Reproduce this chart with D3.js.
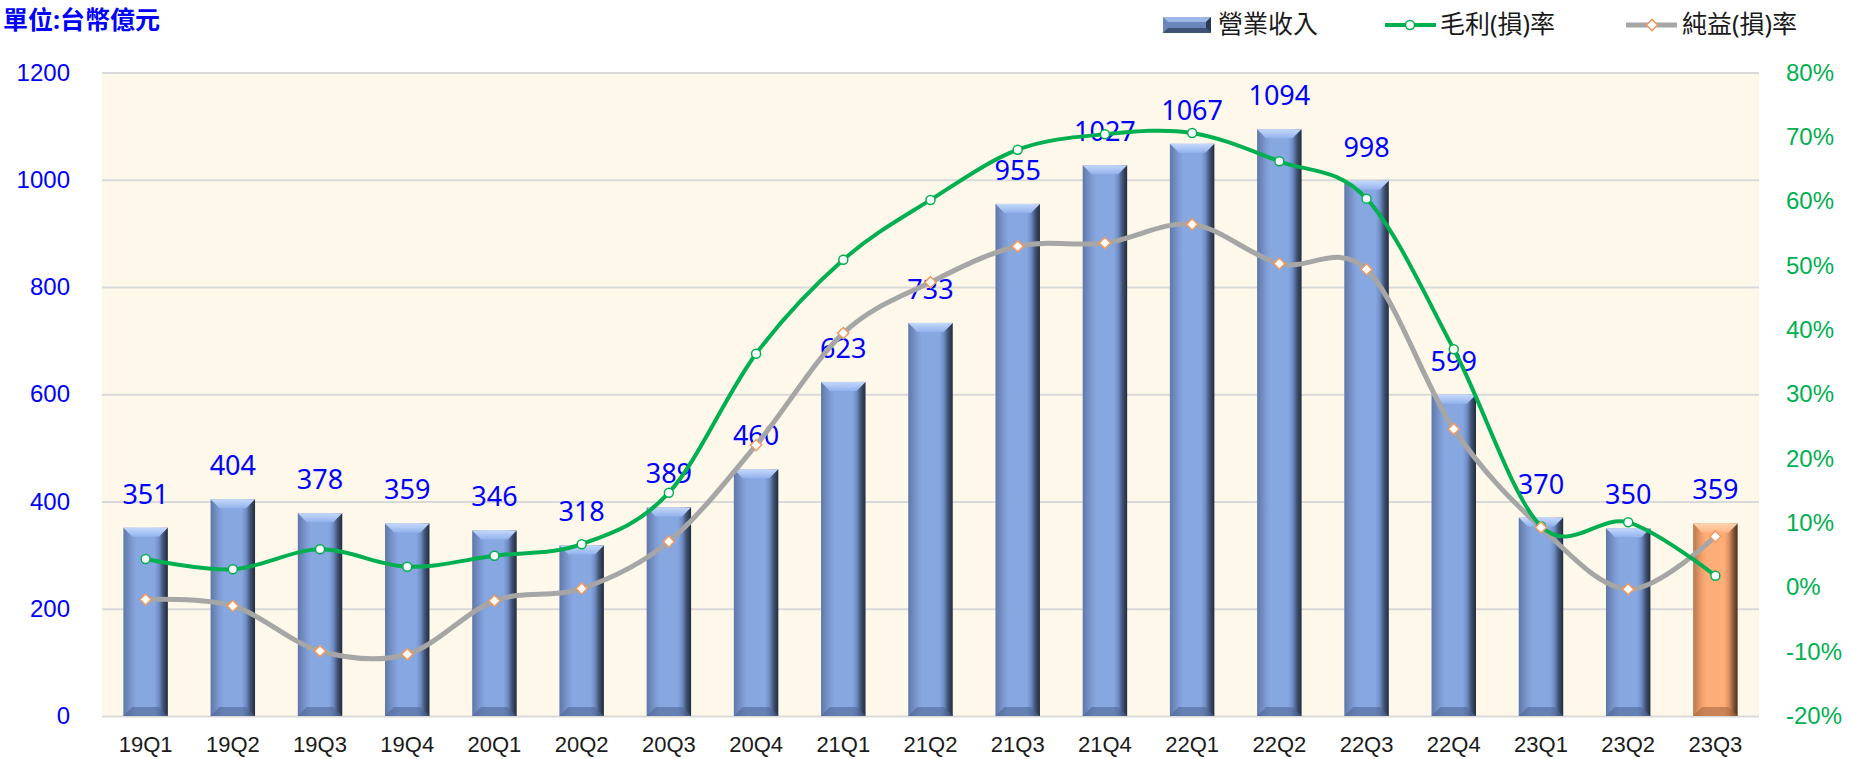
<!DOCTYPE html>
<html>
<head>
<meta charset="utf-8">
<script src="https://cdn.jsdelivr.net/npm/d3@7"></script>
<style>
	body { margin: 0; background: #fff; }
	svg { display: block; font-family: "Noto Sans", "Noto Sans CJK TC", sans-serif; }
</style>
</head>
<body>
<script>
// data
let quarters = ['19Q1', '19Q2', '19Q3', '19Q4', '20Q1', '20Q2', '20Q3', '20Q4', '21Q1', '21Q2',
	'21Q3', '21Q4', '22Q1', '22Q2', '22Q3', '22Q4', '23Q1', '23Q2', '23Q3'];
let revenue = [351, 404, 378, 359, 346, 318, 389, 460, 623, 733, 955, 1027, 1067, 1094, 998, 599, 370, 350, 359];
let grossMargin = [4.4, 2.8, 5.9, 3.2, 4.9, 6.7, 14.7, 36.3, 50.9, 60.2, 68.0, 70.4, 70.6, 66.2, 60.4, 37.0, 9.5, 10.1, 1.8];
let netMargin = [-1.9, -2.9, -9.9, -10.4, -2.1, -0.2, 7.1, 22.1, 39.5, 47.4, 53.0, 53.5, 56.4, 50.3, 49.4, 24.6, 9.3, -0.3, 7.9];
let leftTicks = [0, 200, 400, 600, 800, 1000, 1200];
let rightTicks = [-20, -10, 0, 10, 20, 30, 40, 50, 60, 70, 80];
let unitLabel = '單位:台幣億元';
let legendNames = ['營業收入', '毛利(損)率', '純益(損)率'];

let width = 1849, height = 759;
let plotLeft = 102, plotRight = 1759, plotTop = 72.5, plotBottom = 716;
let blue = '#0000FF', green = '#00B050', gray = '#A6A6A6', textColor = '#1a1a1a';

let svg = d3.select('body').append('svg')
	.attr('width', width)
	.attr('height', height);

//gradients for the bevelled bars
let defs = svg.append('defs');
function barGradient(id, stops) {
	let g = defs.append('linearGradient').attr('id', id)
		.attr('x1', 0).attr('x2', 1).attr('y1', 0).attr('y2', 0);
	stops.forEach(function(s) {
		g.append('stop').attr('offset', s[0]).attr('stop-color', s[1]);
	});
}
barGradient('blueBody', [[0, '#5f78a8'], [0.2, '#7d9ad2'], [0.3, '#87a7e1'], [0.7, '#87a7e1'], [0.8, '#6f8cc4'], [0.9, '#3f5070'], [1, '#222b3c']]);
barGradient('orangeBody', [[0, '#b87a50'], [0.2, '#f2a06c'], [0.3, '#fdad78'], [0.7, '#fdad78'], [0.8, '#e09260'], [0.9, '#8a5a38'], [1, '#4a2f1c']]);
let topGrad = defs.append('linearGradient').attr('id', 'blueTop').attr('x1', 0).attr('x2', 0).attr('y1', 0).attr('y2', 1);
topGrad.append('stop').attr('offset', 0).attr('stop-color', '#c4d8fb');
topGrad.append('stop').attr('offset', 1).attr('stop-color', '#92b2ec');
let topGradO = defs.append('linearGradient').attr('id', 'orangeTop').attr('x1', 0).attr('x2', 0).attr('y1', 0).attr('y2', 1);
topGradO.append('stop').attr('offset', 0).attr('stop-color', '#ffd2b0');
topGradO.append('stop').attr('offset', 1).attr('stop-color', '#ffb786');

//scales
let xScale = d3.scaleBand()
	.domain(quarters)
	.range([plotLeft, plotRight])
	.paddingInner(0.49)
	.paddingOuter(0.245);

let yScale = d3.scaleLinear()
	.domain([0, 1200])
	.range([plotBottom, plotTop]);

let y2Scale = d3.scaleLinear()
	.domain([-20, 80])
	.range([plotBottom, plotTop]);

//plot background
svg.append('rect')
	.attr('x', plotLeft)
	.attr('y', plotTop)
	.attr('width', plotRight - plotLeft)
	.attr('height', plotBottom - plotTop)
	.attr('fill', '#FEF8EB');

//gridlines
let grid = svg.append('g')
	.attr('transform', 'translate(' + plotLeft + ',0)')
	.call(d3.axisLeft(yScale).tickValues(leftTicks).tickSize(-(plotRight - plotLeft)).tickFormat(''));
grid.select('.domain').remove();
grid.selectAll('line').attr('stroke', '#D9D9D9').attr('stroke-width', 2);

//left axis labels
let yAxis = svg.append('g')
	.attr('transform', 'translate(70,0)')
	.call(d3.axisLeft(yScale).tickValues(leftTicks).tickSize(0).tickPadding(0).tickFormat(d3.format('d')));
yAxis.select('.domain').remove();
yAxis.selectAll('text')
	.attr('fill', blue)
	.attr('font-size', '24px')
	.attr('font-family', null);

//right axis labels
let y2Axis = svg.append('g')
	.attr('transform', 'translate(1786,0)')
	.call(d3.axisRight(y2Scale).tickValues(rightTicks).tickSize(0).tickPadding(0)
		.tickFormat(function(d) { return d + '%'; }));
y2Axis.select('.domain').remove();
y2Axis.selectAll('text')
	.attr('fill', green)
	.attr('font-size', '24px')
	.attr('font-family', null);

//bottom axis labels
let xAxis = svg.append('g')
	.attr('transform', 'translate(0,' + plotBottom + ')')
	.call(d3.axisBottom(xScale).tickSize(0).tickPadding(0));
xAxis.select('.domain').remove();
xAxis.selectAll('text')
	.attr('fill', textColor)
	.attr('font-size', '22px')
	.attr('font-family', null)
	.attr('dy', null)
	.attr('y', 36);

//bars
let bw = xScale.bandwidth();
let bev = 9;
let bars = svg.append('g')
	.selectAll('g')
	.data(revenue)
	.enter()
	.append('g')
	.attr('transform', function(d, i) {
		return 'translate(' + xScale(quarters[i]) + ',' + yScale(d) + ')';
	});

bars.append('rect')
	.attr('width', bw)
	.attr('height', function(d) { return yScale(0) - yScale(d); })
	.attr('fill', function(d, i) { return i == revenue.length - 1 ? 'url(#orangeBody)' : 'url(#blueBody)'; });

//top bevel
bars.append('polygon')
	.attr('points', '0,0 ' + bw + ',0 ' + (bw - bev) + ',' + bev + ' ' + bev + ',' + bev)
	.attr('fill', function(d, i) { return i == revenue.length - 1 ? 'url(#orangeTop)' : 'url(#blueTop)'; });

//bottom bevel
bars.append('polygon')
	.attr('points', function(d) {
		let h = yScale(0) - yScale(d);
		return '0,' + h + ' ' + bw + ',' + h + ' ' + (bw - bev) + ',' + (h - bev) + ' ' + bev + ',' + (h - bev);
	})
	.attr('fill', function(d, i) { return i == revenue.length - 1 ? '#a8683f' : '#4f6594'; })
	.attr('opacity', 0.6);

//revenue labels
svg.append('g')
	.selectAll('text')
	.data(revenue)
	.enter()
	.append('text')
	.attr('x', function(d, i) { return xScale(quarters[i]) + bw / 2; })
	.attr('y', function(d) { return yScale(d) - 24; })
	.attr('text-anchor', 'middle')
	.attr('fill', blue)
	.attr('font-size', '27px')
	.text(function(d) { return d; });

//margin lines
let cx = function(d, i) { return xScale(quarters[i]) + bw / 2; };
let line = d3.line()
	.x(cx)
	.y(function(d) { return y2Scale(d); })
	.curve(d3.curveCardinal.tension(0));

svg.append('path')
	.datum(netMargin)
	.attr('d', line)
	.attr('fill', 'none')
	.attr('stroke', gray)
	.attr('stroke-width', 5);

svg.append('path')
	.datum(grossMargin)
	.attr('d', line)
	.attr('fill', 'none')
	.attr('stroke', green)
	.attr('stroke-width', 4);

//gross margin markers
svg.append('g')
	.selectAll('circle')
	.data(grossMargin)
	.enter()
	.append('circle')
	.attr('cx', cx)
	.attr('cy', function(d) { return y2Scale(d); })
	.attr('r', 4.5)
	.attr('fill', '#fff')
	.attr('stroke', green)
	.attr('stroke-width', 1.5);

//net margin markers
let diamond = d3.symbol().type(d3.symbolDiamond2).size(80);
svg.append('g')
	.selectAll('path')
	.data(netMargin)
	.enter()
	.append('path')
	.attr('d', diamond)
	.attr('transform', function(d, i) {
		return 'translate(' + cx(d, i) + ',' + y2Scale(d) + ')';
	})
	.attr('fill', '#fff')
	.attr('stroke', '#F09A62')
	.attr('stroke-width', 1.5);

//unit title
svg.append('text')
	.attr('x', 3)
	.attr('y', 29)
	.attr('fill', blue)
	.attr('font-size', '25px')
	.attr('font-weight', 'bold')
	.text(unitLabel);

//legend
let legend = svg.append('g');
let lb = legend.append('g').attr('transform', 'translate(1163,17)');
lb.append('rect').attr('width', 48).attr('height', 16).attr('fill', '#6a86bb');
lb.append('polygon').attr('points', '0,0 48,0 43,5 5,5').attr('fill', '#9db8e8');
lb.append('polygon').attr('points', '0,16 48,16 43,11 5,11').attr('fill', '#3e5276');
lb.append('polygon').attr('points', '48,0 48,16 43,11 43,5').attr('fill', '#2c3a55');

legend.append('line')
	.attr('x1', 1385).attr('x2', 1436).attr('y1', 25).attr('y2', 25)
	.attr('stroke', green).attr('stroke-width', 4);
legend.append('circle')
	.attr('cx', 1410).attr('cy', 25).attr('r', 4.5)
	.attr('fill', '#fff').attr('stroke', green).attr('stroke-width', 1.5);

legend.append('line')
	.attr('x1', 1626).attr('x2', 1677).attr('y1', 25).attr('y2', 25)
	.attr('stroke', gray).attr('stroke-width', 5);
legend.append('path')
	.attr('d', diamond)
	.attr('transform', 'translate(1652,25)')
	.attr('fill', '#fff').attr('stroke', '#F09A62').attr('stroke-width', 1.5);

let legendX = [1218, 1440, 1682];
legend.selectAll('text')
	.data(legendNames)
	.enter()
	.append('text')
	.attr('x', function(d, i) { return legendX[i]; })
	.attr('y', 33)
	.attr('fill', textColor)
	.attr('font-size', '25px')
	.text(function(d) { return d; });
</script>
</body>
</html>
